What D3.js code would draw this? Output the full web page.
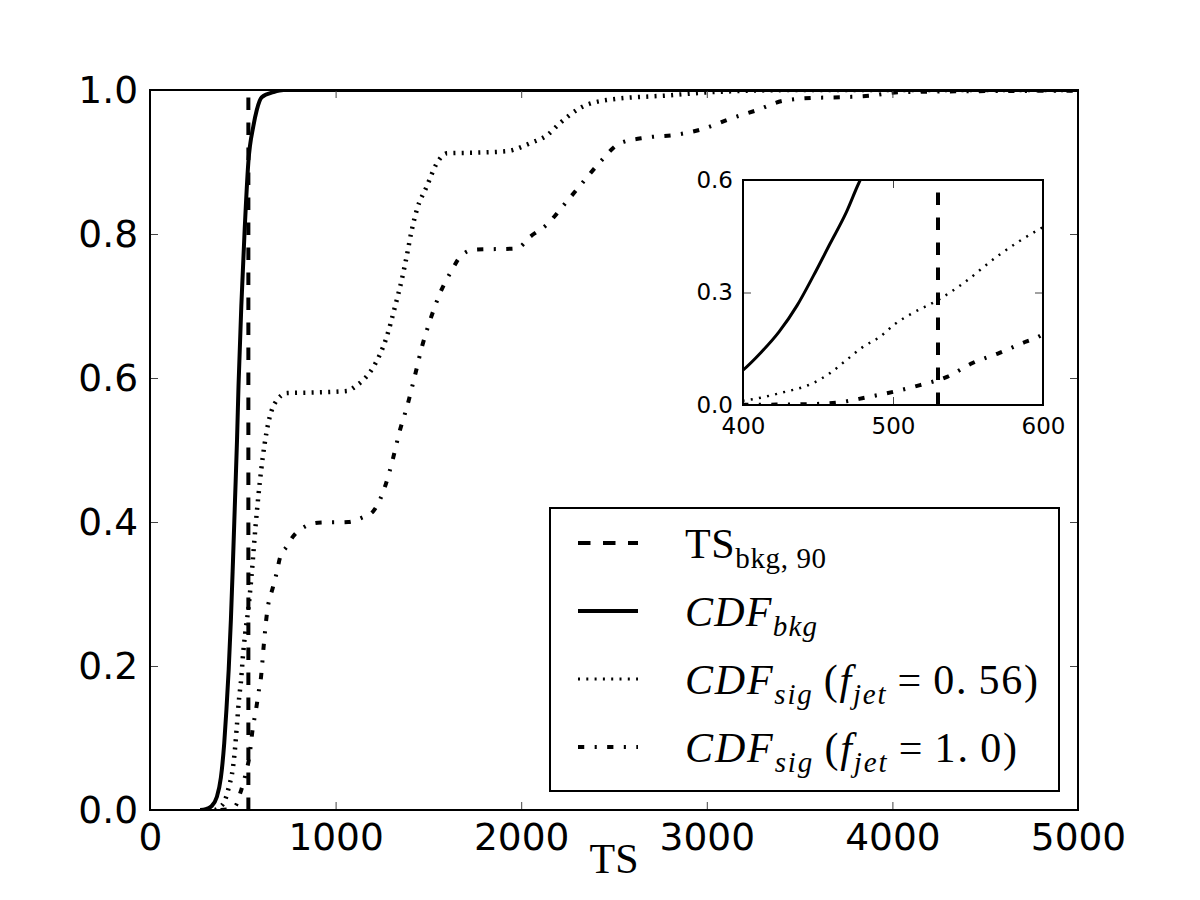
<!DOCTYPE html>
<html>
<head>
<meta charset="utf-8">
<script src="https://cdn.jsdelivr.net/npm/d3@7"></script>
<style>
  body { margin: 0; background: #fff; }
  svg { display: block; }
  .tick text { font-family: "DejaVu Sans", sans-serif; fill: #000; }
  .tick line { stroke: #444; stroke-width: 1; }
</style>
</head>
<body>
<svg id="chart" width="1200" height="900"></svg>
<script>
// values
const threshold = 530;

const bkgTS  = [270, 300, 330, 360, 382, 400, 412, 424, 436, 447, 458, 469, 477, 492, 509, 530, 557, 575, 602, 665, 720, 5000];
const bkgCDF = [0, 0.001, 0.005, 0.018, 0.045, 0.093, 0.14, 0.195, 0.265, 0.345, 0.43, 0.515, 0.59, 0.7, 0.8, 0.9, 0.95, 0.972, 0.99, 0.997, 1.0, 1.0];

const sig56TS  = [350, 377, 403, 425, 447, 458, 469, 480, 491, 502, 513, 530, 547, 569, 599, 637, 673, 738, 900, 1061, 1115, 1148, 1203, 1275, 1320, 1356, 1383, 1410, 1437, 1491, 1545, 1600, 1750, 1923, 2047, 2138, 2209, 2317, 2460, 2820, 2963, 3233, 3500, 5000];
const sig56CDF = [0, 0.004, 0.013, 0.032, 0.059, 0.085, 0.12, 0.155, 0.181, 0.218, 0.245, 0.28, 0.325, 0.395, 0.472, 0.537, 0.565, 0.579, 0.58, 0.582, 0.59, 0.597, 0.615, 0.657, 0.699, 0.736, 0.769, 0.805, 0.833, 0.866, 0.898, 0.912, 0.913, 0.915, 0.926, 0.937, 0.954, 0.975, 0.986, 0.993, 0.996, 0.999, 1.0, 1.0];

const sig10TS  = [380, 440, 462, 483, 500, 518, 536, 553, 571, 588, 596, 614, 630, 663, 683, 700, 737, 781, 906, 1068, 1142, 1203, 1266, 1310, 1342, 1390, 1428, 1465, 1509, 1563, 1627, 1670, 1742, 1977, 2047, 2138, 2245, 2333, 2425, 2532, 2677, 2838, 2980, 3125, 3270, 3410, 3572, 3734, 3879, 4041, 4300, 5000];
const sig10CDF = [0, 0.002, 0.006, 0.021, 0.035, 0.053, 0.075, 0.112, 0.139, 0.168, 0.18, 0.232, 0.273, 0.31, 0.33, 0.35, 0.366, 0.383, 0.399, 0.4, 0.406, 0.415, 0.449, 0.489, 0.523, 0.565, 0.604, 0.643, 0.68, 0.718, 0.75, 0.768, 0.778, 0.78, 0.796, 0.813, 0.845, 0.872, 0.9, 0.926, 0.934, 0.938, 0.946, 0.96, 0.972, 0.985, 0.989, 0.99, 0.992, 0.997, 0.998, 0.999];

const xTicks = [0, 1000, 2000, 3000, 4000, 5000];
const yTicks = [0, 0.2, 0.4, 0.6, 0.8, 1.0];
const insetXTicks = [400, 500, 600];
const insetYTicks = [0, 0.3, 0.6];

const styles = {
  dashed:  "12.5,12.5",
  solid:   null,
  dotted:  "2,6.3",
  dashdot: "6.25,10.4,2.1,10.4"
};

function zip(xs, ys) {
  return xs.map((v, i) => [v, ys[i]]);
}

const series = [
  { key: "bkg",   pts: zip(bkgTS, bkgCDF),   dash: styles.solid,   w: 4, wi: 3 },
  { key: "sig56", pts: zip(sig56TS, sig56CDF), dash: styles.dotted, w: 4.5, wi: 2.5 },
  { key: "sig10", pts: zip(sig10TS, sig10CDF), dash: styles.dashdot, w: 4, wi: 4 }
];

const svg = d3.select("#chart");

function drawPanel(opts) {
  const x = d3.scaleLinear().domain(opts.xDomain).range([opts.left, opts.right]);
  const y = d3.scaleLinear().domain(opts.yDomain).range([opts.bottom, opts.top]);
  const g = svg.append("g");

  g.append("rect")
    .attr("x", opts.left).attr("y", opts.top)
    .attr("width", opts.right - opts.left).attr("height", opts.bottom - opts.top)
    .attr("fill", "#fff");

  g.append("clipPath").attr("id", opts.id + "-clip")
    .append("rect")
    .attr("x", opts.left).attr("y", opts.top)
    .attr("width", opts.right - opts.left).attr("height", opts.bottom - opts.top);

  const plot = g.append("g").attr("clip-path", "url(#" + opts.id + "-clip)");
  const line = d3.line().x(d => x(d[0])).y(d => y(d[1])).curve(d3.curveMonotoneX);

  // threshold line, drawn from bottom to top
  plot.append("path")
    .attr("d", d3.line()([[x(threshold), y(0)], [x(threshold), y(1)]]))
    .attr("fill", "none").attr("stroke", "#000")
    .attr("stroke-width", 4)
    .attr("stroke-dasharray", styles.dashed);

  series.forEach(s => {
    plot.append("path")
      .datum(s.pts)
      .attr("d", line)
      .attr("fill", "none")
      .attr("stroke", "#000")
      .attr("stroke-width", opts.inset ? s.wi : s.w)
      .attr("stroke-dasharray", s.dash);
  });

  const fmtX = d3.format("d");
  const fmtY = d3.format(".1f");

  g.append("g").attr("transform", `translate(0,${opts.bottom})`)
    .call(d3.axisBottom(x).tickValues(opts.xTicks).tickFormat(fmtX).tickSize(-opts.tick).tickPadding(opts.padX))
    .call(a => a.select(".domain").remove())
    .selectAll("text").style("font-size", opts.font + "px");
  g.append("g").attr("transform", `translate(0,${opts.top})`)
    .call(d3.axisTop(x).tickValues(opts.xTicks).tickFormat("").tickSize(-opts.tick))
    .call(a => a.select(".domain").remove());
  g.append("g").attr("transform", `translate(${opts.left},0)`)
    .call(d3.axisLeft(y).tickValues(opts.yTicks).tickFormat(fmtY).tickSize(-opts.tick).tickPadding(opts.padY))
    .call(a => a.select(".domain").remove())
    .selectAll("text").style("font-size", opts.font + "px");
  g.append("g").attr("transform", `translate(${opts.right},0)`)
    .call(d3.axisRight(y).tickValues(opts.yTicks).tickFormat("").tickSize(-opts.tick))
    .call(a => a.select(".domain").remove());

  g.append("rect")
    .attr("x", opts.left).attr("y", opts.top)
    .attr("width", opts.right - opts.left).attr("height", opts.bottom - opts.top)
    .attr("fill", "none").attr("stroke", "#000").attr("stroke-width", 2);

  return { x, y, g };
}

drawPanel({
  id: "main", left: 150, right: 1078, top: 90, bottom: 810,
  xDomain: [0, 5000], yDomain: [0, 1],
  xTicks: xTicks, yTicks: yTicks,
  tick: 8, font: 37.5, padX: 13, padY: 12
});

// x label
svg.append("text")
  .attr("x", 614).attr("y", 873)
  .attr("text-anchor", "middle")
  .style("font-family", "'Liberation Serif', serif")
  .style("font-size", "42px")
  .text("TS");

// legend
const legend = svg.append("g");
legend.append("rect")
  .attr("x", 550).attr("y", 508).attr("width", 509).attr("height", 283)
  .attr("fill", "#fff").attr("stroke", "#000").attr("stroke-width", 2);

const legendRows = [
  { dash: styles.dashed, w: 4, len: 141, parts: [["TS", "n", 0], ["bkg, 90", "n", 1]] },
  { dash: styles.solid, w: 4, len: 132, parts: [["CDF", "i", 0], ["bkg", "i", 1]] },
  { dash: styles.dotted, w: 3, len: 353, parts: [["CDF", "i", 0], ["sig", "i", 1], ["\u2009(", "n", 0], ["f", "i", 0], ["jet", "i", 1], ["\u2009=\u20090.\u200956)", "n", 0]] },
  { dash: styles.dashdot, w: 4, len: 332, parts: [["CDF", "i", 0], ["sig", "i", 1], ["\u2009(", "n", 0], ["f", "i", 0], ["jet", "i", 1], ["\u2009=\u20091.\u20090)", "n", 0]] }
];
const rowY = [543, 611, 679, 747];

legendRows.forEach((r, i) => {
  legend.append("path")
    .attr("d", d3.line()([[578, rowY[i]], [638, rowY[i]]]))
    .attr("fill", "none").attr("stroke", "#000")
    .attr("stroke-width", r.w)
    .attr("stroke-dasharray", r.dash);
  const t = legend.append("text")
    .attr("x", 685).attr("y", rowY[i] + 15)
    .attr("textLength", r.len)
    .attr("lengthAdjust", "spacing")
    .style("font-family", "'Liberation Serif', serif")
    .style("font-size", "42px");
  let shift = 0;
  r.parts.forEach(p => {
    const target = p[2] ? 10 : 0;
    t.append("tspan")
      .attr("dy", target - shift)
      .style("font-style", p[1] === "i" ? "italic" : "normal")
      .style("font-size", p[2] ? "29px" : "42px")
      .text(p[0]);
    shift = target;
  });
});

// inset
drawPanel({
  id: "inset", inset: true, left: 743, right: 1043, top: 180, bottom: 405,
  xDomain: [400, 600], yDomain: [0, 0.6],
  xTicks: insetXTicks, yTicks: insetYTicks,
  tick: 8, font: 23, padX: 13, padY: 10
});
</script>
</body>
</html>
